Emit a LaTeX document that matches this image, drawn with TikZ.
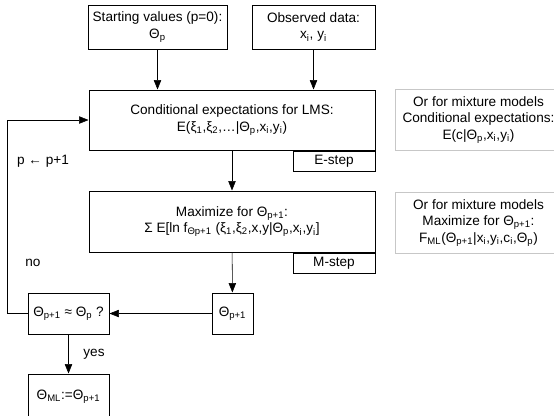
\documentclass[tikz,border=0pt]{standalone}
\usepackage{fontspec}
\setmainfont{Liberation Sans}
\usepackage{tikz}
\usetikzlibrary{arrows.meta,positioning,calc}
\newcommand{\ix}[1]{\textsubscript{#1}}

\begin{document}
\begin{tikzpicture}[
    x=0.75pt, y=-0.75pt,
    font=\fontsize{10.2pt}{12.5pt}\selectfont,
    mainbox/.style={draw, line width=0.75pt, minimum width=214.5pt, minimum height=45pt, align=center, inner sep=0pt},
    inbox/.style={draw, line width=0.75pt, align=center, inner sep=0pt},
    tabbox/.style={draw, line width=0.75pt, minimum width=61.5pt, minimum height=15pt, inner sep=0pt},
    sidebox/.style={draw=black!22, line width=0.75pt, minimum width=124.5pt, minimum height=45.75pt, align=center, inner sep=0pt},
    lbl/.style={inner sep=0pt},
    >={Triangle[length=7pt,width=5.5pt]}
  ]
  \useasboundingbox (0,0) rectangle (554,415);
  \clip (0,0) rectangle (554,415);

  % Inputs
  \node[inbox, minimum width=104.25pt, minimum height=33pt] (start) at (157.5,27) {Starting values (p=0):\\Θ\ix{p}};
  \node[inbox, minimum width=92.25pt, minimum height=33pt] (observed) at (313.5,27) {Observed data:\\x\ix{i}, y\ix{i}};

  % E-step
  \node[mainbox] (condexp) at (232,120) {Conditional expectations for LMS:\\E(ξ\ix{1},ξ\ix{2},…|Θ\ix{p},x\ix{i},y\ix{i})};
  \node[tabbox, anchor=north east] (estep) at (condexp.south east) {E-step};

  % M-step
  \node[mainbox, minimum height=45.75pt] (maxim) at (232,221.5) {Maximize for Θ\ix{p+1}:\\Σ E[ln f\ix{Θp+1} (ξ\ix{1},ξ\ix{2},x,y|Θ\ix{p},x\ix{i},y\ix{i}]};
  \node[tabbox, anchor=north east] (mstep) at (maxim.south east) {M-step};

  % Mixture models
  \node[sidebox, anchor=north west] (mixE) at (395,89) {Or for mixture models\\Conditional expectations:\\E(c|Θ\ix{p},x\ix{i},y\ix{i})};
  \node[sidebox, anchor=north west] (mixM) at (395,192) {Or for mixture models\\Maximize for Θ\ix{p+1}:\\F\ix{ML}(Θ\ix{p+1}|x\ix{i},y\ix{i},c\ix{i},Θ\ix{p})};

  % Convergence
  \node[inbox, minimum width=30.75pt, minimum height=30.75pt] (thetanew) at (232.5,313.5) {Θ\ix{p+1}};
  \node[inbox, minimum width=60.75pt, minimum height=30.75pt] (check) at (68.5,313.5) {Θ\ix{p+1} ≈ Θ\ix{p} ?};
  \node[inbox, minimum width=60.75pt, minimum height=34.5pt] (result) at (68.5,397) {Θ\ix{ML}:=Θ\ix{p+1}};
  \coordinate (loop) at (7,120);

  % Labels
  \node[lbl] (update) at (43,161) {p ← p+1};
  \node[lbl] (no) at (33,263) {no};
  \node[lbl] (yes) at (94,354) {yes};

  % Edges
  \draw[->] (start) -- (start |- condexp.north);
  \draw[->] (observed) -- (observed |- condexp.north);
  \draw[->] (condexp) -- (maxim);
  \draw[->] (maxim) -- (thetanew);
  \draw[->] (thetanew) -- (check);
  \draw[->] (check.west) -- (check.west -| loop) |- (condexp.west);
  \draw[->] (check) -- (result);
\end{tikzpicture}
\end{document}
